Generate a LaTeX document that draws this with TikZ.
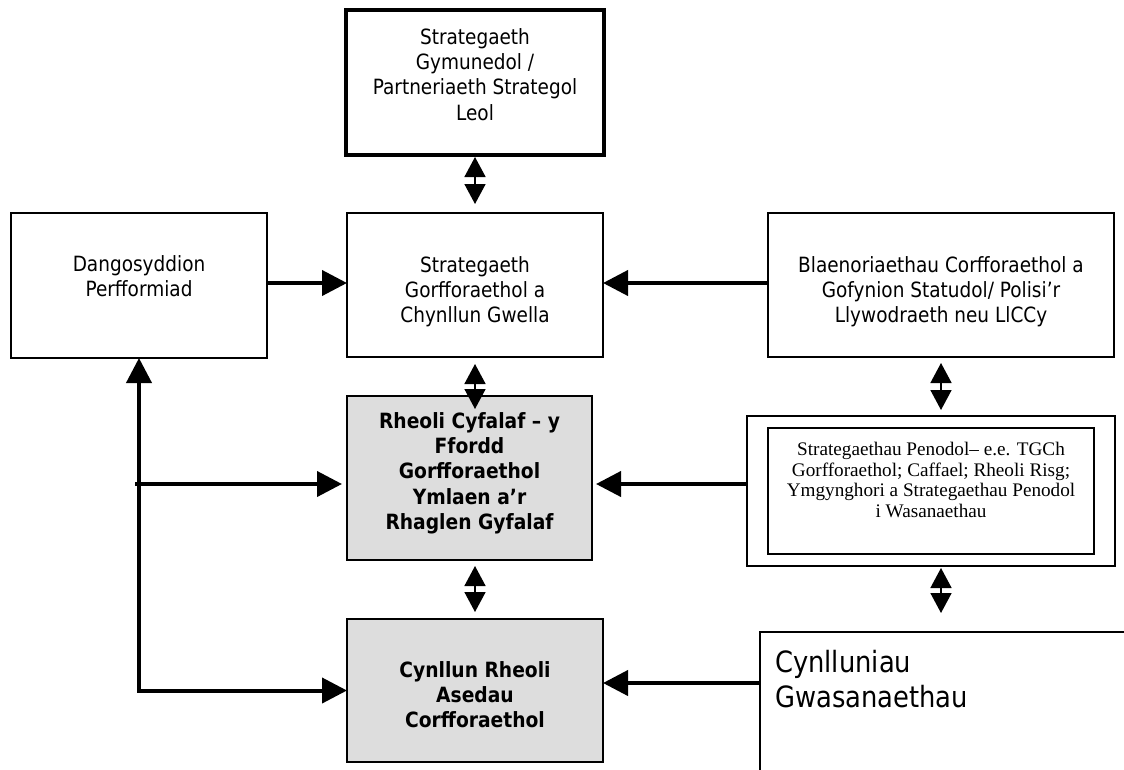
\documentclass[tikz,border=0pt]{standalone}
\usepackage{fontspec}
\usetikzlibrary{arrows.meta,calc}
\newfontfamily\tah[FakeStretch=0.88]{DejaVu Sans}
\newfontfamily\tahb[FakeStretch=0.89]{DejaVu Sans Bold}
\newfontfamily\tms{Liberation Serif}
\definecolor{boxgray}{RGB}{221,221,221}
\tikzset{
  box/.style={draw, line width=1.8pt, outer sep=0pt, inner sep=0pt, fill=white},
  thickbox/.style={box, line width=4pt},
  graybox/.style={box, fill=boxgray},
  txt/.style={anchor=north, inner sep=0pt, align=center, font={\tah\fontsize{21}{25.3}\selectfont}},
  btxt/.style={txt, font={\tahb\fontsize{21}{25.3}\selectfont}},
  flow/.style={line width=4pt, -{Triangle[length=25pt,width=25pt]}},
  flowboth/.style={line width=4pt, {Triangle[length=25pt,width=25pt]}-{Triangle[length=25pt,width=25pt]}},
  dbl/.style={line width=1.6pt, {Triangle[length=20pt,width=21pt]}-{Triangle[length=20pt,width=21pt]}}
}
\begin{document}
\begin{tikzpicture}[x=1pt,y=-1pt]
\useasboundingbox (0,0) rectangle (1124,769);
\clip (0,0) rectangle (1124,769);
\fill[white] (0,0) rectangle (1124,769);
% boxes
\node[thickbox, minimum width=258pt, minimum height=145pt] (topbox) at (475,82.5) {};
\node[box, minimum width=256pt, minimum height=145pt] (left) at (139,285.5) {};
\node[box, minimum width=256pt, minimum height=144pt] (mid) at (475,285) {};
\node[box, minimum width=346pt, minimum height=144pt] (right) at (941,285) {};
\node[graybox, minimum width=245pt, minimum height=164pt] (gray) at (469.5,478) {};
\node[graybox, minimum width=256pt, minimum height=143pt] (lowgray) at (475,690.5) {};
\node[box, minimum width=368pt, minimum height=150pt] (outer) at (931,491) {};
\node[box, minimum width=326pt, minimum height=126pt] (inner) at (931,491) {};
\node[box, anchor=north west, minimum width=420pt, minimum height=200pt] (cyn) at (760,632) {};
% texts
\node[txt] (ttop) at (475,28) {Strategaeth\\Gymunedol /\\Partneriaeth Strategol\\Leol};
\node[txt] (tleft) at (139,255) {Dangosyddion\\Perfformiad};
\node[txt] (tmid) at (475,256) {Strategaeth\\Gorfforaethol a\\Chynllun Gwella};
\node[txt] (tright) at (941,256) {Blaenoriaethau Corfforaethol a\\Gofynion Statudol/ Polisi’r\\Llywodraeth neu LlCCy};
\node[btxt] (tgray) at (469.5,412) {Rheoli Cyfalaf – y\\Ffordd\\Gorfforaethol\\Ymlaen a’r\\Rhaglen Gyfalaf};
\node[btxt] (tlow) at (475,661) {Cynllun Rheoli\\Asedau\\Corfforaethol};
\node[txt, font={\tms\fontsize{19.2}{20.7}\selectfont}] (tinner) at (931,442) {Strategaethau Penodol– e.e. TGCh\\Gorfforaethol; Caffael; Rheoli Risg;\\Ymgynghori a Strategaethau Penodol\\i Wasanaethau};
\node[anchor=north west, inner sep=0pt, align=left, font={\tah\fontsize{29.3}{35}\selectfont}] (tcyn) at (775,650) {Cynlluniau\\Gwasanaethau};
% vertical double arrows
\draw[dbl, shorten <=2pt, shorten >=9pt] (topbox.south) -- (mid.north);
\draw[dbl, shorten <=7pt, shorten >=-13pt] (mid.south) -- (mid.south |- gray.north);
\draw[dbl, shorten <=6pt, shorten >=6pt] (right.south) -- (right.south |- outer.north);
\draw[dbl, shorten <=2pt, shorten >=19pt] (right.south |- outer.south) -- (right.south |- cyn.north);
\draw[dbl, shorten <=6pt, shorten >=7pt] (lowgray.north |- gray.south) -- (lowgray.north);
% horizontal arrows
\draw[flow] (left.east |- 0,283) -- (mid.west |- 0,283);
\draw[flow] (right.west |- 0,283) -- (mid.east |- 0,283);
\draw[flow, shorten >=4pt] (outer.west |- 0,484) -- (gray.east |- 0,484);
\coordinate (j) at (135,484);
\draw[flow, shorten >=5pt] (j) -- (j -| gray.west);
\draw[flow] (cyn.west |- 0,683) -- (lowgray.east |- 0,683);
\draw[flowboth] (left.south) |- (lowgray.west);
\end{tikzpicture}
\end{document}
